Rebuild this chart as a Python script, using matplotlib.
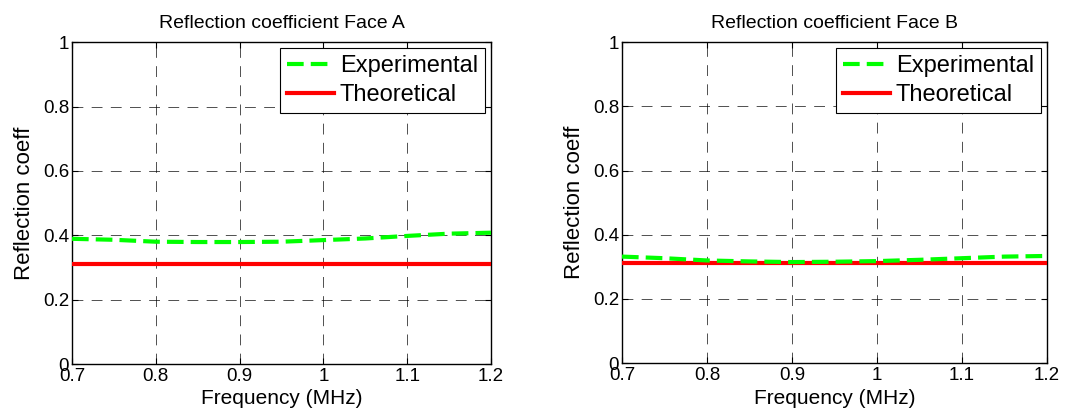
import matplotlib
matplotlib.use("Agg")
import matplotlib.pyplot as plt
import numpy as np

plt.rcParams['font.family'] = ['Liberation Sans', 'DejaVu Sans']

freq = [0.7, 0.75, 0.8, 0.85, 0.9, 0.95, 1.0, 1.05, 1.1, 1.15, 1.2]
exp_a = [0.389, 0.386, 0.380, 0.379, 0.379, 0.380, 0.385, 0.390, 0.398, 0.405, 0.408]
theo_a = [0.311] * len(freq)
exp_b = [0.332, 0.327, 0.320, 0.317, 0.315, 0.316, 0.318, 0.322, 0.327, 0.332, 0.334]
theo_b = [0.311] * len(freq)

xticks = [0.7, 0.8, 0.9, 1.0, 1.1, 1.2]
xticklabels = ['0.7', '0.8', '0.9', '1', '1.1', '1.2']
yticks = [0, 0.2, 0.4, 0.6, 0.8, 1.0]
yticklabels = ['0', '0.2', '0.4', '0.6', '0.8', '1']
titles = ['Reflection coefficient Face A', 'Reflection coefficient Face B']

fig = plt.figure(figsize=(10.65, 4.17), dpi=100)
ax_a = fig.add_axes([0.0676, 0.127, 0.3934, 0.772])
ax_b = fig.add_axes([0.584, 0.129, 0.399, 0.770])

for ax, ex, th, title in [(ax_a, exp_a, theo_a, titles[0]), (ax_b, exp_b, theo_b, titles[1])]:
    ax.plot(freq, th, color='#ff0000', lw=3, label='Theoretical', zorder=3)
    ax.plot(freq, ex, color='#00ff00', lw=3, ls=(0, (4, 1.7)), label='Experimental', zorder=4)
    ax.set_xlim(0.7, 1.2)
    ax.set_ylim(0, 1)
    ax.set_xticks(xticks)
    ax.set_xticklabels(xticklabels)
    ax.set_yticks(yticks)
    ax.set_yticklabels(yticklabels)
    ax.tick_params(direction='in', top=True, right=True, labelsize=13.5, length=4, width=0.8, pad=2)
    ax.tick_params(axis='x', pad=3)
    ax.grid(True, color='black', ls=(0, (13, 10)), lw=0.6, alpha=0.8)
    for s in ax.spines.values():
        s.set_linewidth(1.0)
        s.set_color('black')
    ax.set_title(title, fontsize=14, pad=10)
    ax.set_xlabel('Frequency (MHz)', fontsize=15, labelpad=3)
    ax.set_ylabel('Reflection coeff', fontsize=16, labelpad=6)
    handles, labels = ax.get_legend_handles_labels()
    leg = ax.legend(handles[::-1], labels[::-1], loc='upper right', fontsize=17,
                    fancybox=False, framealpha=1, edgecolor='black', borderpad=0.3,
                    labelspacing=0.3, handlelength=2.0, handletextpad=0.25,
                    borderaxespad=0.25)
    leg.get_frame().set_linewidth(0.8)

fig.savefig('out.png', dpi=100)
